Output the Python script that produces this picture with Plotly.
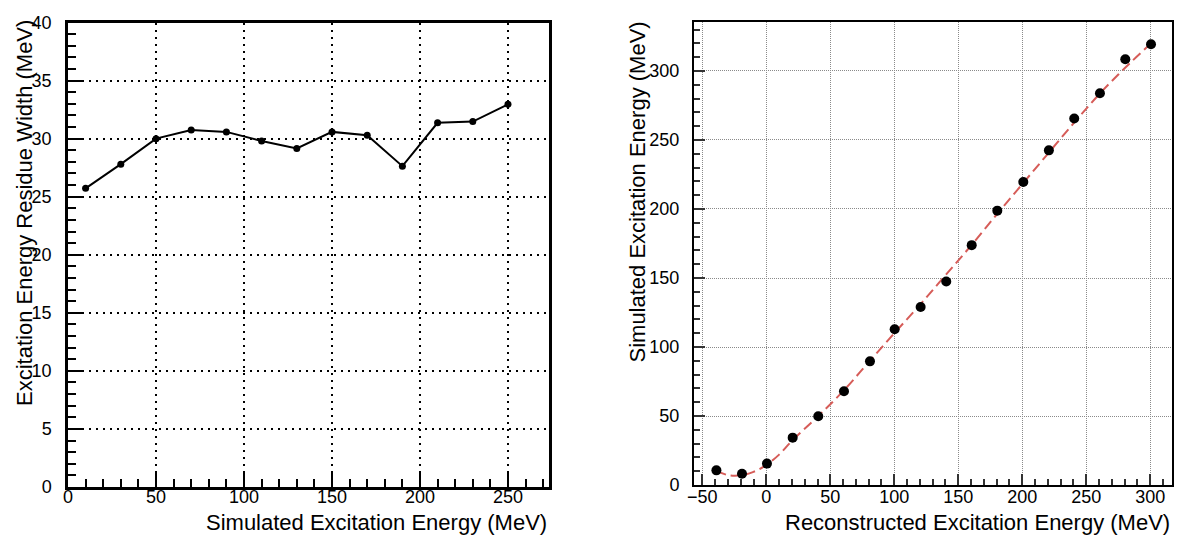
import plotly.graph_objects as go

# Residue width vs. simulated excitation energy
sim_energy = [10, 30, 50, 70, 90, 110, 130, 150, 170, 190, 210, 230, 250]
residue_width = [25.72, 27.8, 30.0, 30.75, 30.58, 29.8, 29.16, 30.58, 30.29,
                 27.63, 31.36, 31.47, 32.95]

# Reconstructed vs. simulated excitation energy
reco_energy = [-39, -19, 0.5, 20.6, 40.6, 60.7, 81, 100.3, 120.6, 140.6,
               160.5, 180.5, 200.8, 220.8, 240.6, 260.7, 280.5, 300.6]
sim_energy_pts = [10.6, 8.2, 15.5, 34.3, 49.8, 67.9, 89.6, 112.8, 129.0, 147.4,
                  173.8, 198.8, 219.6, 242.5, 265.6, 283.9, 308.5, 319.4]

# Calibration fit curve samples
fit_x = [-39, -30, -20, -10, 0, 10, 20, 40, 60, 80, 100, 120, 140, 160, 180,
         200, 220, 240, 260, 280, 300.6]
fit_y = [10.2, 7.2, 7.0, 9.5, 14.5, 22.0, 32.0, 49.5, 68.0, 89.0, 110.0,
         130.5, 152.0, 173.5, 196.0, 218.0, 240.0, 262.0, 283.0, 302.0, 320.0]

W, H = 1178, 536
FONT = "Liberation Sans, Arial, Helvetica, sans-serif"


def px_x(p):
    return p / W


def px_y(p):
    return 1 - p / H


fig = go.Figure()

fig.add_trace(go.Scatter(
    x=sim_energy, y=residue_width, mode="lines+markers",
    line=dict(color="black", width=2),
    marker=dict(color="black", size=7),
    xaxis="x", yaxis="y", showlegend=False,
))

fig.add_trace(go.Scatter(
    x=fit_x, y=fit_y, mode="lines",
    line=dict(color="#d65c58", width=2, dash="10px,5px", shape="spline"),
    xaxis="x2", yaxis="y2", showlegend=False,
))

fig.add_trace(go.Scatter(
    x=reco_energy, y=sim_energy_pts, mode="markers",
    marker=dict(color="black", size=10),
    xaxis="x2", yaxis="y2", showlegend=False,
))

tick_font = dict(family=FONT, size=18, color="black")

left_common = dict(
    showline=True, linecolor="black", linewidth=2.5, mirror=True,
    ticks="inside", ticklen=15, tickwidth=2, tickcolor="black",
    showgrid=True, gridcolor="black", gridwidth=2, griddash="2px,5px",
    zeroline=False, tickfont=tick_font, automargin=False,
)
right_common = dict(
    showline=True, linecolor="black", linewidth=2, mirror=True,
    ticks="inside", ticklen=11, tickwidth=1.5, tickcolor="#333",
    showgrid=True, gridcolor="#8a8a8a", gridwidth=1, griddash="1px,1px",
    zeroline=False, tickfont=tick_font, automargin=False,
)

fig.update_layout(
    width=W, height=H,
    margin=dict(l=0, r=0, t=0, b=0, autoexpand=False),
    paper_bgcolor="white", plot_bgcolor="white",
    font=dict(family=FONT, color="black"),
    xaxis=dict(
        domain=[px_x(68), px_x(549)], anchor="y",
        range=[0, 273.3], tickmode="linear", tick0=0, dtick=50,
        minor=dict(dtick=10, ticklen=8, tickwidth=2, tickcolor="black",
                   ticks="inside", showgrid=False),
        ticklabelstandoff=-8,
        **left_common,
    ),
    yaxis=dict(
        domain=[px_y(487), px_y(22.5)], anchor="x",
        range=[0, 40], tickmode="linear", tick0=0, dtick=5,
        minor=dict(dtick=1, ticklen=8, tickwidth=2, tickcolor="black",
                   ticks="inside", showgrid=False),
        ticklabelstandoff=10,
        **left_common,
    ),
    xaxis2=dict(
        domain=[px_x(694), px_x(1172)], anchor="y2",
        range=[-56.5, 317], tickmode="linear", tick0=0, dtick=50,
        minor=dict(dtick=10, ticklen=6, tickwidth=1.5, tickcolor="#333",
                   ticks="inside", showgrid=False),
        ticklabelstandoff=-6,
        **right_common,
    ),
    yaxis2=dict(
        domain=[px_y(485), px_y(22)], anchor="x2",
        range=[0, 335.5], tickmode="linear", tick0=0, dtick=50,
        minor=dict(dtick=10, ticklen=6, tickwidth=1.5, tickcolor="#333",
                   ticks="inside", showgrid=False),
        ticklabelstandoff=9,
        **right_common,
    ),
)

title_font = dict(family=FONT, size=22, color="black")
fig.add_annotation(text="Simulated Excitation Energy (MeV)", xref="paper", yref="paper",
                   x=px_x(549), y=px_y(522), xanchor="right", yanchor="middle",
                   showarrow=False, font=title_font)
fig.add_annotation(text="Excitation Energy Residue Width (MeV)", xref="paper", yref="paper",
                   x=px_x(24), y=px_y(18), xanchor="center", yanchor="top",
                   textangle=-90, showarrow=False, font=title_font)
fig.add_annotation(text="Reconstructed Excitation Energy (MeV)", xref="paper", yref="paper",
                   x=px_x(1172), y=px_y(522), xanchor="right", yanchor="middle",
                   showarrow=False, font=title_font)
fig.add_annotation(text="Simulated Excitation Energy (MeV)", xref="paper", yref="paper",
                   x=px_x(637), y=px_y(20), xanchor="center", yanchor="top",
                   textangle=-90, showarrow=False, font=title_font)

fig.write_html("out.html")
